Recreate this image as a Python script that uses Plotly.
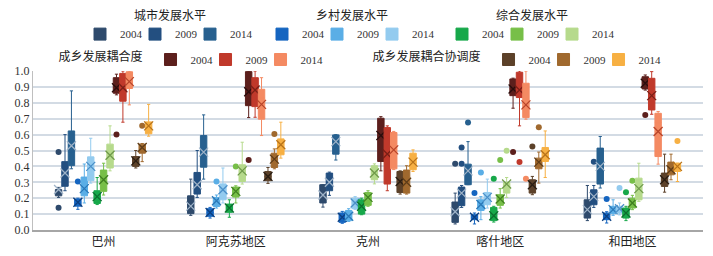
import plotly.graph_objects as go

categories = ['巴州', '阿克苏地区', '克州', '喀什地区', '和田地区']
indicators = ['城市发展水平', '乡村发展水平', '综合发展水平', '成乡发展耦合度', '成乡发展耦合协调度']
years = ['2004', '2009', '2014']
y_ticks = [0.0, 0.1, 0.2, 0.3, 0.4, 0.5, 0.6, 0.7, 0.8, 0.9, 1.0]

# one row per series (indicator x year), one value per region
q1_vals = [
    [.215, .103, .170, .048, .075],
    [.275, .226, .247, .153, .159],
    [.405, .395, .477, .285, .289],
    [.150, .086, .048, .065, .065],
    [.215, .148, .059, .123, .103],
    [.310, .190, .134, .159, .107],
    [.167, .111, .100, .059, .075],
    [.243, .207, .155, .155, .138],
    [.390, .305, .316, .232, .190],
    [.860, .782, .431, .845, .887],
    [.810, .776, .289, .833, .755],
    [.890, .697, .385, .707, .462],
    [.400, .310, .236, .232, .274],
    [.483, .393, .232, .385, .347],
    [.605, .473, .379, .431, .368],
]
median_vals = [
    [.232, .160, .218, .107, .138],
    [.347, .295, .300, .200, .205],
    [.490, .490, .556, .358, .368],
    [.165, .110, .080, .080, .086],
    [.243, .180, .080, .155, .120],
    [.347, .238, .170, .190, .125],
    [.210, .142, .149, .086, .107],
    [.295, .236, .200, .190, .170],
    [.430, .358, .358, .274, .264],
    [.908, .870, .588, .890, .923],
    [.910, .890, .460, .887, .860],
    [.937, .830, .504, .797, .676],
    [.430, .337, .305, .278, .310],
    [.515, .440, .305, .414, .390],
    [.644, .525, .427, .473, .400],
]
q3_vals = [
    [.253, .215, .285, .176, .190],
    [.430, .362, .358, .270, .253],
    [.623, .594, .598, .414, .515],
    [.195, .134, .107, .096, .107],
    [.333, .205, .123, .190, .149],
    [.460, .290, .200, .236, .149],
    [.247, .163, .190, .142, .138],
    [.377, .270, .236, .222, .200],
    [.540, .410, .404, .300, .326],
    [.958, .996, .703, .950, .964],
    [.985, .958, .644, .992, .954],
    [.995, .885, .613, .923, .734],
    [.462, .368, .368, .316, .358],
    [.540, .483, .377, .452, .427],
    [.680, .573, .483, .519, .420],
]
lower_vals = [
    [.205, .092, .144, .038, .059],
    [.247, .205, .218, .142, .142],
    [.385, .320, .440, .285, .264],
    [.130, .075, .042, .038, .044],
    [.170, .138, .054, .065, .092],
    [.295, .170, .130, .138, .095],
    [.160, .080, .096, .050, .059],
    [.220, .170, .149, .138, .128],
    [.372, .289, .290, .205, .180],
    [.850, .707, .372, .766, .880],
    [.678, .709, .247, .655, .728],
    [.787, .594, .380, .697, .414],
    [.390, .293, .226, .222, .238],
    [.430, .385, .226, .295, .316],
    [.590, .452, .368, .330, .305],
]
upper_vals = [
    [.268, .320, .285, .232, .280],
    [.600, .500, .364, .280, .280],
    [.875, .724, .600, .556, .588],
    [.200, .142, .117, .107, .115],
    [.415, .220, .134, .210, .190],
    [.577, .390, .210, .320, .170],
    [.330, .190, .200, .149, .149],
    [.420, .278, .247, .260, .218],
    [.655, .552, .416, .330, .420],
    [.980, 1.00, .713, .955, .975],
    [1.00, 1.00, .655, 1.00, .996],
    [1.00, .958, .620, 1.00, .745],
    [.500, .393, .372, .337, .477],
    [.544, .510, .404, .490, .477],
    [.790, .678, .504, .623, .420],
]
mean_vals = [
    [.255, .150, .220, .115, .128],
    [.358, .285, .300, .232, .210],
    [.530, .490, .556, .372, .400],
    [.175, .110, .080, .080, .086],
    [.260, .184, .086, .160, .128],
    [.400, .253, .170, .205, .134],
    [.210, .138, .149, .090, .107],
    [.316, .243, .205, .195, .170],
    [.470, .372, .358, .289, .260],
    [.895, .870, .594, .887, .923],
    [.895, .880, .478, .880, .845],
    [.933, .790, .504, .787, .620],
    [.435, .337, .305, .285, .316],
    [.519, .446, .300, .427, .379],
    [.655, .536, .427, .473, .400],
]
outlier_vals = [
    [[.49, .14], [], [], [.416], []],
    [[], [], [], [.416, .519], [.43]],
    [[], [], [], [.676], []],
    [[.305], [], [], [.232], [.195]],
    [[], [.305], [], [.362], []],
    [[], [], [], [], [.264]],
    [[], [], [], [.322], [.238]],
    [[], [.40], [], [.44], [.31]],
    [[], [], [], [.498], []],
    [[.60], [.44], [], [.49], [.724]],
    [[], [], [], [.427], []],
    [[], [], [], [.322], []],
    [[], [], [], [.525], []],
    [[.655], [.603], [], [.646], []],
    [[], [], [], [], [.56]],
]
colors = [
    '#2e4a6c', '#234f80', '#27608f',
    '#1565c0', '#5aaee6', '#93cbef',
    '#17a84a', '#77bf48', '#b6da8c',
    '#5c1f1c', '#c0392b', '#f48a62',
    '#5c4129', '#a0692e', '#f7b043',
]
mean_colors = [
    '#9fb3c8', '#9fb3c8', '#9fb3c8',
    '#0b3f80', '#2a78b8', '#4a8fc8',
    '#0b6e2e', '#3f7f20', '#6f9a4a',
    '#2a0d0c', '#7a1f16', '#b8452a',
    '#2a1d12', '#5e3c18', '#b8731a',
]

FONT = 'Liberation Serif, Noto Sans CJK SC, serif'

fig = go.Figure()
for k in range(15):
    ind = k // 3
    yr = years[k % 3]
    lg = 'legend' if ind == 0 else 'legend%d' % (ind + 1)
    fig.add_trace(go.Box(
        x=categories,
        q1=q1_vals[k], median=median_vals[k], q3=q3_vals[k],
        lowerfence=lower_vals[k], upperfence=upper_vals[k], mean=mean_vals[k],
        name=yr, legend=lg, legendgroup=str(k),
        legendwidth=(25 if k % 3 == 2 else 10),
        offsetgroup=str(k), alignmentgroup='a',
        fillcolor=colors[k], line=dict(color=colors[k], width=1),
        whiskerwidth=0.5, boxpoints=False,
    ))
    # mean markers
    fig.add_trace(go.Box(
        x=categories, y=mean_vals[k],
        offsetgroup=str(k), alignmentgroup='a', legendgroup=str(k),
        showlegend=False, boxpoints='all', jitter=0, pointpos=0,
        fillcolor='rgba(0,0,0,0)', line=dict(color='rgba(0,0,0,0)', width=0),
        whiskerwidth=0, hoverinfo='skip',
        marker=dict(symbol='x-thin-open', size=9, color=mean_colors[k],
                    line=dict(color=mean_colors[k], width=1.3)),
    ))
    ox, oy = [], []
    for c, pts in zip(categories, outlier_vals[k]):
        for p in pts:
            ox.append(c)
            oy.append(p)
    if ox:
        fig.add_trace(go.Box(
            x=ox, y=oy,
            offsetgroup=str(k), alignmentgroup='a', legendgroup=str(k),
            showlegend=False, boxpoints='all', jitter=0, pointpos=0,
            fillcolor='rgba(0,0,0,0)', line=dict(color='rgba(0,0,0,0)', width=0),
            whiskerwidth=0, hoverinfo='skip',
            marker=dict(symbol='circle', size=6, color=colors[k]),
        ))

def px_x(p):
    return (p - 33) / 670.0

def px_y(p):
    return (230 - p) / 159.0

legend_common = dict(orientation='h', bgcolor='rgba(0,0,0,0)',
                     font=dict(family=FONT, size=11, color='#333333'),
                     itemwidth=30, entrywidthmode='pixels',
                     xanchor='center', yanchor='top',
                     tracegroupgap=0, itemclick=False, itemdoubleclick=False)
title_font = dict(family='Noto Sans CJK SC', size=12, color='#222222')

fig.update_layout(
    width=713, height=256,
    margin=dict(l=33, r=10, t=71, b=26, autoexpand=False),
    paper_bgcolor='white', plot_bgcolor='white',
    boxmode='group', boxgap=0.27, boxgroupgap=0.0,
    font=dict(family=FONT, size=12, color='#333333'),
    xaxis=dict(type='category', categoryorder='array', categoryarray=categories,
               showline=True, linecolor='#a6a6a6', linewidth=2, automargin=False,
               ticks='', tickfont=dict(family='Noto Sans CJK SC', size=12, color='#222222')),
    yaxis=dict(range=[0, 1.0], tickvals=y_ticks, tickformat='.1f', automargin=False,
               showgrid=True, gridcolor='#d3dbe4', gridwidth=1.5,
               showline=True, linecolor='#bfbfbf', linewidth=1,
               zeroline=False, ticks='',
               tickfont=dict(family=FONT, size=12, color='#333333')),
    legend=dict(x=px_x(170), y=px_y(4), title=dict(text=indicators[0], side='top center', font=title_font), **legend_common),
    legend2=dict(x=px_x(352), y=px_y(4), title=dict(text=indicators[1], side='top center', font=title_font), **legend_common),
    legend3=dict(x=px_x(532), y=px_y(4), title=dict(text=indicators[2], side='top center', font=title_font), **legend_common),
    legend4=dict(x=px_x(194), y=px_y(45), title=dict(text=indicators[3], side='left', font=title_font), **legend_common),
    legend5=dict(x=px_x(520), y=px_y(45), title=dict(text=indicators[4], side='left', font=title_font), **legend_common),
)

fig.write_html('out.html', config={'displayModeBar': False},
               post_script="document.body.style.margin='0px';document.body.style.padding='0px';")
